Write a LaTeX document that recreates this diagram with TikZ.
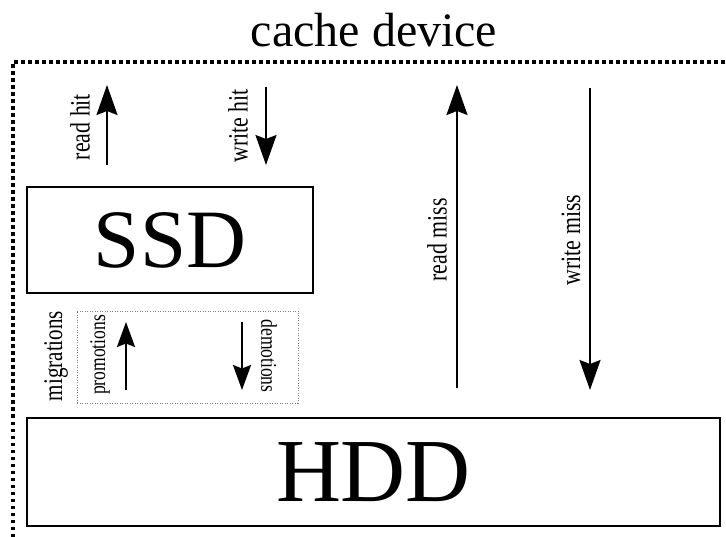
\documentclass[tikz,border=0pt]{standalone}
\usepackage{fontspec}
\setmainfont{Liberation Serif}
\newfontfamily\condfont[FakeStretch=0.78]{Liberation Serif}
\usetikzlibrary{arrows.meta}
\begin{document}
\begin{tikzpicture}[x=1pt,y=-1pt,
  frame/.style={line width=3.5pt, dash pattern=on 3.5pt off 3.5pt},
  dev/.style={draw, line width=1.5pt, inner sep=0pt},
  migbox/.style={draw=gray, line width=0.6pt, dash pattern=on 1pt off 1.5pt, inner sep=0pt},
  arr/.style={line width=2pt, -{Stealth[length=30pt,width=21pt,inset=4pt]}},
  sarr/.style={line width=2pt, -{Stealth[length=25pt,width=18pt,inset=3.5pt]}},
  lbl/.style={font=\condfont\fontsize{28}{30}\selectfont, inner sep=0pt},
  slbl/.style={font=\condfont\fontsize{22.5}{24}\selectfont, inner sep=0pt},
  mlbl/.style={font=\condfont\fontsize{27}{29}\selectfont, inner sep=0pt}]
\useasboundingbox (0,0) rectangle (726,537);
% title and frame
\node[font=\fontsize{48}{52}\selectfont, inner sep=0pt, anchor=base] (title) at (374,47) {cache device};
\coordinate (fb) at (13,537);
\coordinate (fc) at (13,62);
\coordinate (fr) at (726,62);
\draw[frame] (fb) -- (fc) -- (fr);
% devices
\node[dev, minimum width=286pt, minimum height=106pt, font=\fontsize{83}{90}\selectfont] (ssd) at (170,240) {SSD};
\node[dev, minimum width=693pt, minimum height=108pt, font=\fontsize{90}{96}\selectfont] (hdd) at (373.5,472) {HDD};
\node[migbox, minimum width=221pt, minimum height=92pt] (mig) at (187.5,357) {};
% arrow end points
\coordinate (rh1) at (107,165); \coordinate (rh2) at (107,85);
\coordinate (wh1) at (266,87);  \coordinate (wh2) at (266,165);
\coordinate (rm1) at (457,388); \coordinate (rm2) at (457,85);
\coordinate (wm1) at (590,88);  \coordinate (wm2) at (590,390);
\coordinate (pr1) at (126,390); \coordinate (pr2) at (126,322);
\coordinate (de1) at (242,322); \coordinate (de2) at (242,390);
\draw[arr] (rh1) -- (rh2);
\draw[arr] (wh1) -- (wh2);
\draw[arr] (rm1) -- (rm2);
\draw[arr] (wm1) -- (wm2);
\draw[sarr] (pr1) -- (pr2);
\draw[sarr] (de1) -- (de2);
% labels
\node[lbl, rotate=90] (lrh) at (80,127) {read hit};
\node[lbl, rotate=90] (lwh) at (238,126) {write hit};
\node[lbl, rotate=90] (lrm) at (437,240) {read miss};
\node[lbl, rotate=90] (lwm) at (571,240) {write miss};
\node[mlbl, rotate=90] (lmig) at (56,356) {migrations};
\node[slbl, rotate=90] (lpro) at (100,355) {promotions};
\node[slbl, rotate=-90] (ldem) at (269,356) {demotions};
\end{tikzpicture}
\end{document}
